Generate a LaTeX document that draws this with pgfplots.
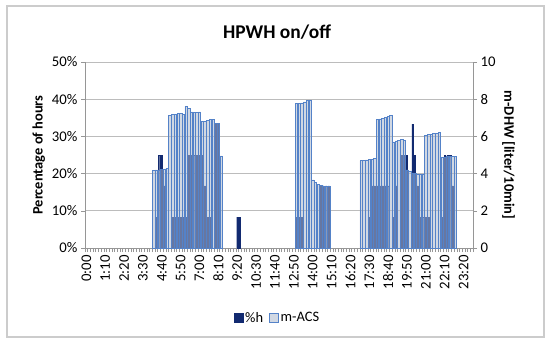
\documentclass[border=0pt]{standalone}
\usepackage{fontspec}
\setmainfont{Carlito}
\usepackage{pgfplots}
\pgfplotsset{compat=1.18}
\definecolor{darkbar}{RGB}{18,42,112}
\definecolor{lightfill}{RGB}{172,184,204}
\definecolor{lightedge}{RGB}{84,130,200}
\definecolor{gridc}{RGB}{188,188,188}
\definecolor{axc}{RGB}{150,150,150}
\begin{document}
\begin{tikzpicture}[x=1bp,y=1bp]
\path[use as bounding box] (0,0) rectangle (550,344);
\fill[white] (0,0) rectangle (550,344);
\draw[gray!40, line width=1.2bp] (7,7) rectangle (544,338);
\node[font=\fontsize{19.5}{21}\selectfont\bfseries] at (277,312) {HPWH on/off};
\pgfplotsset{base/.style={
  scale only axis, width=388bp, height=186bp,
  at={(85bp,96bp)}, anchor=south west,
  xmin=-0.5, xmax=143.5, ymin=0,
  /pgf/number format/assume math mode=true,
  ticklabel style={font=\fontsize{14.8}{16}\selectfont},
  tick align=outside,
  major tick length=4bp,
}}
\begin{axis}[base, ymax=50,
  ybar, bar width=0.42,
  ytick={0,10,...,50},
  yticklabel={\pgfmathprintnumber{\tick}\%},
  ymajorgrids, grid style={gridc, line width=0.8bp},
  axis x line*=bottom, axis y line*=left,
  axis line style={axc, line width=0.8bp},
  every tick/.style={axc, line width=0.6bp},
  xtick={0,7,...,140},
  xticklabels={0:00,1:10,2:20,3:30,4:40,5:50,7:00,8:10,9:20,10:30,11:40,12:50,14:00,15:10,16:20,17:30,18:40,19:50,21:00,22:10,23:20},
  xticklabel style={rotate=90, anchor=east},
  major x tick style={draw=none},
  minor xtick={-0.5,0.5,...,143.5},
  minor tick length=4bp,
  ylabel={\bfseries Percentage of hours},
  ylabel style={font=\fontsize{14.5}{15}\selectfont},
]
\addplot[fill=darkbar, draw=darkbar, line width=0.3bp, bar shift=0pt] coordinates {
(26,8.33)(27,25)(28,25)(29,16.67)(32,8.33)(33,8.33)(34,8.33)(35,8.33)(36,8.33)(37,8.33)
(38,25)(39,25)(40,25)(41,25)(42,25)(43,25)(44,16.67)(45,8.33)(46,8.33)(48,33.33)(49,33.33)
(56,8.33)(57,8.33)
(78,8.33)(79,8.33)(80,8.33)(87,16.67)(88,16.67)(89,16.67)(90,16.67)
(105,8.33)(106,16.67)(107,16.67)(108,16.67)(109,16.67)(110,16.67)(111,16.67)(112,16.67)
(114,8.33)(115,16.67)(117,25)(118,25)(119,25)(121,33.33)(122,25)(123,16.67)
(124,8.33)(125,8.33)(126,8.33)(127,8.33)(132,8.33)(133,25)(134,25)(135,25)(136,16.67)
};
\end{axis}
\begin{axis}[base, ymax=10,
  ybar, bar width=0.9,
  axis x line=none, axis y line*=right,
  axis line style={axc, line width=0.8bp},
  every tick/.style={axc, line width=0.6bp},
  ytick={0,2,...,10},
  ylabel={\bfseries m-DHW [liter/10min]},
  ylabel style={font=\fontsize{14.5}{15}\selectfont, rotate=180},
  legend style={at={(0.496,-0.376)}, anchor=center, draw=none, fill=none,
    legend columns=2, font=\fontsize{14.5}{15}\selectfont,
    /tikz/every even column/.append style={column sep=4bp}},
  legend image code/.code={\draw[#1] (0bp,-4.5bp) rectangle (9bp,4.5bp);},
]
\addlegendimage{fill=darkbar, draw=darkbar}
\addlegendentry{\%h}
\addplot[fill=lightfill, fill opacity=0.55, draw=lightedge, line width=0.5bp, bar shift=0pt] coordinates {
(25,4.18)(26,4.2)(27,4.2)(28,4.22)(29,4.25)(30,4.3)
(31,7.15)(32,7.18)(33,7.2)(34,7.22)(35,7.25)(36,7.2)
(37,7.62)(38,7.5)(39,7.32)(40,7.28)(41,7.3)(42,7.32)
(43,6.8)(44,6.82)(45,6.86)(46,6.9)(47,6.92)(48,6.72)(49,6.7)(50,4.95)
(78,7.76)(79,7.78)(80,7.8)(81,7.86)(82,7.92)(83,7.96)
(84,3.66)(85,3.52)(86,3.44)(87,3.36)(88,3.32)(89,3.32)(90,3.32)
(102,4.7)(103,4.72)(104,4.74)(105,4.76)(106,4.78)(107,4.8)
(108,6.9)(109,6.94)(110,6.98)(111,7.02)(112,7.08)(113,7.12)
(114,5.7)(115,5.76)(116,5.8)(117,5.84)(118,5.8)
(119,4.2)(120,4.1)(121,4.04)(122,4.0)(123,3.98)(124,3.98)(125,3.98)
(126,6.06)(127,6.1)(128,6.12)(129,6.16)(130,6.18)(131,6.22)
(132,4.88)(133,4.9)(134,4.92)(135,4.92)(136,4.94)(137,4.94)
};
\addlegendentry{m-ACS}
\end{axis}
\end{tikzpicture}
\end{document}
